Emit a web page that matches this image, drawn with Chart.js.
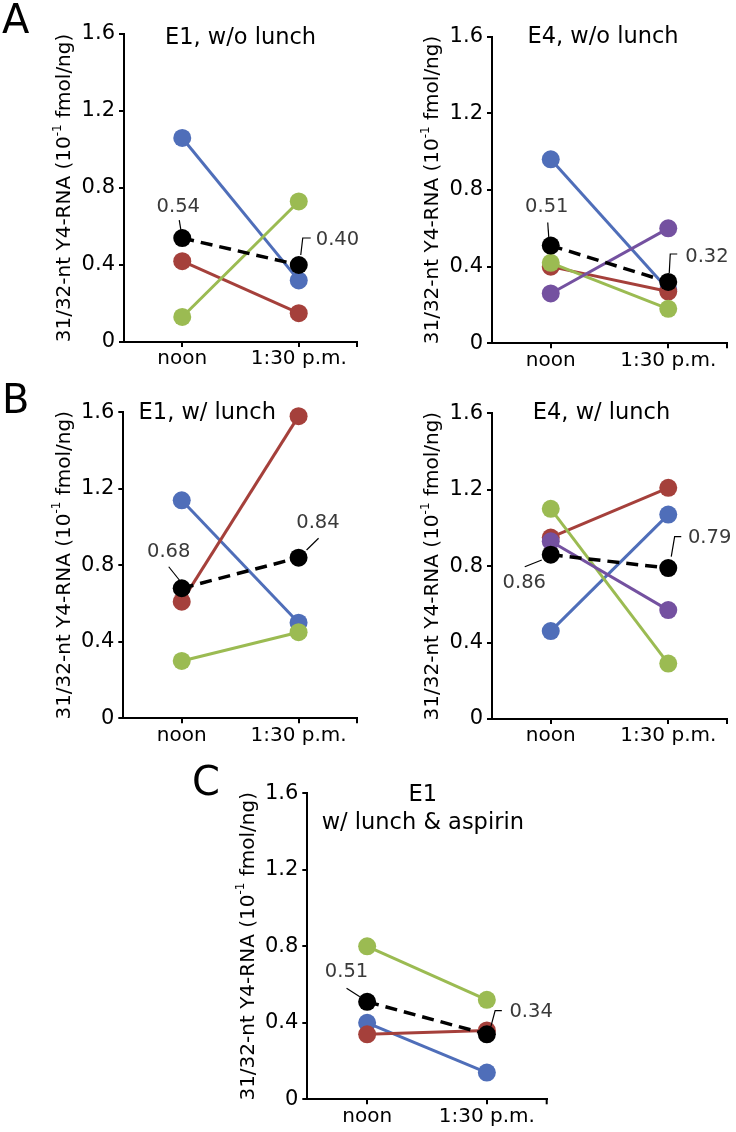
<!DOCTYPE html>
<html>
<head>
<meta charset="utf-8">
<script src="https://cdn.jsdelivr.net/npm/chart.js@4.4.1/dist/chart.umd.min.js"></script>
<style>
body { margin: 0; background: #fff; }
#figure { position: relative; width: 736px; height: 1132px; overflow: hidden; }
#figure canvas { position: absolute; }
</style>
</head>
<body>
<div id="figure">
    <canvas id="panelA1" width="366" height="372" style="left:0px;top:0px"></canvas>
    <canvas id="panelA2" width="370" height="372" style="left:366px;top:0px"></canvas>
    <canvas id="panelB1" width="366" height="380" style="left:0px;top:372px"></canvas>
    <canvas id="panelB2" width="370" height="380" style="left:366px;top:372px"></canvas>
    <canvas id="panelC" width="380" height="380" style="left:180px;top:752px"></canvas>
</div>
<script>
var timePoints = ['noon', '1:30 p.m.'];
var yTicks = [0, 0.4, 0.8, 1.2, 1.6];

// A: E1, w/o lunch
var a1Blue = [1.06, 0.32];
var a1Red = [0.42, 0.15];
var a1Green = [0.13, 0.73];
var a1Mean = [0.54, 0.40];

// A: E4, w/o lunch
var a2Blue = [0.96, 0.28];
var a2Red = [0.40, 0.27];
var a2Green = [0.42, 0.18];
var a2Purple = [0.26, 0.60];
var a2Mean = [0.51, 0.32];

// B: E1, w/ lunch
var b1Blue = [1.14, 0.50];
var b1Red = [0.61, 1.58];
var b1Green = [0.30, 0.45];
var b1Mean = [0.68, 0.84];

// B: E4, w/ lunch
var b2Blue = [0.46, 1.07];
var b2Red = [0.95, 1.21];
var b2Green = [1.10, 0.29];
var b2Purple = [0.93, 0.57];
var b2Mean = [0.86, 0.79];

// C: E1, w/ lunch & aspirin
var cBlue = [0.40, 0.14];
var cRed = [0.34, 0.36];
var cGreen = [0.80, 0.52];
var cMean = [0.51, 0.34];

var COLORS = {
    blue: '#4F6EB9',
    red: '#A5403B',
    green: '#9BBB52',
    purple: '#7451A0',
    mean: '#000000'
};

var FONT = '"DejaVu Sans", sans-serif';
Chart.defaults.font.family = FONT;
Chart.defaults.color = '#000';

function series(values, color, dashed) {
    return {
        data: values,
        borderColor: color,
        backgroundColor: color,
        borderWidth: dashed ? 3.5 : 3,
        borderDash: dashed ? [12, 7] : [],
        pointRadius: 9,
        pointBorderWidth: 0,
        pointBackgroundColor: color,
        pointHoverRadius: 9,
        tension: 0,
        clip: false
    };
}

// drawn after the datasets: letter, titles, y title, mean labels
var panelDecor = {
    id: 'panelDecor',
    afterDraw: function (chart, args, opts) {
        var ctx = chart.ctx;
        var area = chart.chartArea;
        var i;
        ctx.save();

        if (opts.letter) {
            ctx.font = '40px ' + FONT;
            ctx.fillStyle = '#000';
            ctx.textAlign = 'left';
            ctx.textBaseline = 'alphabetic';
            ctx.fillText(opts.letter.text, opts.letter.x, opts.letter.y);
        }

        ctx.font = '22.5px ' + FONT;
        ctx.fillStyle = '#000';
        ctx.textAlign = 'center';
        ctx.textBaseline = 'middle';
        for (i = 0; i < opts.title.length; i++) {
            ctx.fillText(opts.title[i], area.left + opts.titleX, area.top + opts.titleY + i * 28.3);
        }

        // rotated y title with superscript
        ctx.save();
        ctx.translate(area.left - 59, (area.top + area.bottom) / 2);
        ctx.rotate(-Math.PI / 2);
        var mainFont = '20px ' + FONT;
        var supFont = '12px ' + FONT;
        var p1 = '31/32-nt Y4-RNA (10', sup = '-1', p2 = ' fmol/ng)';
        ctx.font = mainFont;
        var w1 = ctx.measureText(p1).width, w2 = ctx.measureText(p2).width;
        ctx.font = supFont;
        var ws = ctx.measureText(sup).width;
        var x = -(w1 + ws + w2) / 2;
        ctx.textAlign = 'left';
        ctx.font = mainFont;
        ctx.fillText(p1, x, 0);
        ctx.font = supFont;
        ctx.fillText(sup, x + w1, -7);
        ctx.font = mainFont;
        ctx.fillText(p2, x + w1 + ws, 0);
        ctx.restore();

        // tick at the right end of the x axis
        ctx.strokeStyle = '#000';
        ctx.lineWidth = 2;
        ctx.beginPath();
        ctx.moveTo(area.right, area.bottom);
        ctx.lineTo(area.right, area.bottom + 5);
        ctx.stroke();

        // mean value labels with leader lines
        var meta = chart.getDatasetMeta(0);
        var values = chart.data.datasets[0].data;
        ctx.font = '19.5px ' + FONT;
        ctx.fillStyle = '#3a3a3a';
        ctx.textBaseline = 'middle';
        ctx.lineWidth = 1.2;
        opts.meanLabels.forEach(function (lab, k) {
            var pt = meta.data[k];
            ctx.beginPath();
            lab.leader.forEach(function (p, j) {
                if (j === 0) ctx.moveTo(pt.x + p[0], pt.y + p[1]);
                else ctx.lineTo(pt.x + p[0], pt.y + p[1]);
            });
            ctx.stroke();
            ctx.textAlign = lab.align;
            ctx.fillText(values[k].toFixed(2), pt.x + lab.dx, pt.y + lab.dy);
        });

        ctx.restore();
    }
};

function makePanel(id, area, decor, datasets) {
    var canvas = document.getElementById(id);
    var w = canvas.width, h = canvas.height;
    return new Chart(canvas, {
        type: 'line',
        data: { labels: timePoints, datasets: datasets },
        options: {
            responsive: false,
            animation: false,
            devicePixelRatio: 1,
            events: [],
            layout: { padding: { left: 0, top: area.top, right: w - area.right, bottom: 0 } },
            plugins: {
                legend: { display: false },
                tooltip: { enabled: false },
                panelDecor: decor
            },
            scales: {
                x: {
                    type: 'category',
                    offset: true,
                    grid: { display: true, drawOnChartArea: false, offset: false, color: '#000', lineWidth: 2, tickLength: 5 },
                    border: { display: true, color: '#000', width: 2 },
                    ticks: { color: '#000', font: { size: 20 }, padding: 0, maxRotation: 0, autoSkip: false },
                    afterFit: function (s) { s.height = h - area.bottom; }
                },
                y: {
                    min: 0,
                    max: 1.6,
                    afterBuildTicks: function (s) {
                        s.ticks = yTicks.map(function (v) { return { value: v }; });
                    },
                    grid: { display: true, drawOnChartArea: false, color: '#000', lineWidth: 2, tickLength: 5 },
                    border: { display: true, color: '#000', width: 2 },
                    ticks: {
                        color: '#000',
                        font: { size: 21 },
                        padding: 4,
                        callback: function (v) { return v === 0 ? '0' : v.toFixed(1); }
                    },
                    afterFit: function (s) { s.width = area.left; }
                }
            }
        },
        plugins: [panelDecor]
    });
}

makePanel('panelA1', { left: 124, top: 34, right: 358, bottom: 342 }, {
    letter: { text: 'A', x: 2, y: 33 },
    title: ['E1, w/o lunch'], titleX: 116.5, titleY: 4,
    meanLabels: [
        { dx: -4, dy: -31, align: 'center', leader: [[-3, -18], [-1, -6]] },
        { dx: 17, dy: -25, align: 'left', leader: [[12, -27], [4, -27], [2, -10]] }
    ]
}, [
    series(a1Mean, COLORS.mean, true),
    series(a1Green, COLORS.green),
    series(a1Red, COLORS.red),
    series(a1Blue, COLORS.blue)
]);

makePanel('panelA2', { left: 126, top: 36.7, right: 362, bottom: 343.3 }, {
    title: ['E4, w/o lunch'], titleX: 111, titleY: 0,
    meanLabels: [
        { dx: -4, dy: -39, align: 'center', leader: [[-3, -23], [-2, -8]] },
        { dx: 17, dy: -25, align: 'left', leader: [[9, -28], [2, -28], [1, -9]] }
    ]
}, [
    series(a2Mean, COLORS.mean, true),
    series(a2Purple, COLORS.purple),
    series(a2Green, COLORS.green),
    series(a2Red, COLORS.red),
    series(a2Blue, COLORS.blue)
]);

makePanel('panelB1', { left: 123.3, top: 40.3, right: 358.3, bottom: 346.3 }, {
    letter: { text: 'B', x: 2, y: 41 },
    title: ['E1, w/ lunch'], titleX: 84, titleY: 0.4,
    meanLabels: [
        { dx: -13, dy: -36.5, align: 'center', leader: [[-13, -21.5], [-1, -6.5]] },
        { dx: 19.4, dy: -34.4, align: 'center', leader: [[20, -19.4], [8, -7.7]] }
    ]
}, [
    series(b1Mean, COLORS.mean, true),
    series(b1Red, COLORS.red),
    series(b1Green, COLORS.green),
    series(b1Blue, COLORS.blue)
]);

makePanel('panelB2', { left: 126, top: 41.3, right: 361.7, bottom: 347 }, {
    title: ['E4, w/ lunch'], titleX: 109.5, titleY: 0,
    meanLabels: [
        { dx: -26.5, dy: 28.6, align: 'center', leader: [[-26, 12], [-9, 5.3]] },
        { dx: 19.7, dy: -29.8, align: 'left', leader: [[13, -31.4], [6.4, -31.4], [3, -11.4]] }
    ]
}, [
    series(b2Mean, COLORS.mean, true),
    series(b2Purple, COLORS.purple),
    series(b2Green, COLORS.green),
    series(b2Blue, COLORS.blue),
    series(b2Red, COLORS.red)
]);

makePanel('panelC', { left: 127.3, top: 41.3, right: 366.7, bottom: 347.3 }, {
    letter: { text: 'C', x: 12, y: 43 },
    title: ['E1', 'w/ lunch & aspirin'], titleX: 115.5, titleY: 1.7,
    meanLabels: [
        { dx: -20.6, dy: -30, align: 'center', leader: [[-20.6, -13.5], [-7.3, -5.1]] },
        { dx: 22.6, dy: -22.6, align: 'left', leader: [[15, -23.6], [8.3, -23.6], [4, -7.6]] }
    ]
}, [
    series(cMean, COLORS.mean, true),
    series(cRed, COLORS.red),
    series(cGreen, COLORS.green),
    series(cBlue, COLORS.blue)
]);
</script>
</body>
</html>
